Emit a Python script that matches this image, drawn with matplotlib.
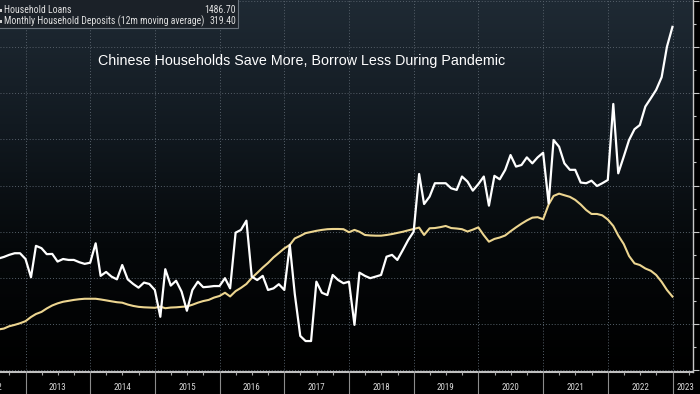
import numpy as np
import pandas as pd
import matplotlib
matplotlib.use("Agg")
import matplotlib.pyplot as plt
import matplotlib.dates as mdates
from matplotlib import font_manager
from matplotlib.colors import LinearSegmentedColormap
from matplotlib.patches import Rectangle
from matplotlib.ticker import MultipleLocator

# monthly values, Jul 2012 .. Dec 2022
months = pd.date_range("2012-07-31", periods=126, freq="ME")

household_loans = [
    484, 491, 500, 507, 507, 482,
    403, 539, 529, 503, 504, 471, 482, 478, 478, 468, 461, 466,
    550, 409, 426, 406, 394, 456, 394, 374, 358, 380, 374, 348,
    232, 438, 367, 388, 341, 258, 348, 384, 360, 362, 365, 365,
    399, 355, 596, 608, 648, 406, 391, 409, 348, 355, 373, 348,
    543, 331, 149, 127, 127, 384, 336, 326, 413, 391, 377, 384,
    197, 423, 409, 399, 406, 413, 492, 500, 478, 521, 564, 600,
    850, 720, 752, 810, 810, 810, 788, 781, 839, 817, 778, 806,
    839, 713, 842, 827, 868, 932, 882, 889, 922, 896, 922, 942,
    723, 997, 968, 896, 868, 868, 813, 810, 821, 798, 810, 824,
    1153, 853, 925, 997, 1044, 1062, 1142, 1178, 1214, 1269, 1401, 1486.70,
]

household_deposits = [
    177, 181, 191, 197, 204, 213,
    231, 244, 253, 268, 281, 290, 297, 301, 305, 308, 310, 310,
    310, 307, 303, 299, 295, 293, 285, 279, 275, 273, 272, 271,
    276, 269, 272, 273, 275, 277, 284, 293, 300, 305, 315, 322,
    336, 320, 343, 357, 374, 400, 422, 445, 465, 489, 508, 528,
    543, 571, 582, 594, 599, 604, 608, 611, 612, 612, 611, 598,
    608, 600, 586, 584, 583, 583, 586, 590, 595, 600, 606, 612,
    618, 586, 615, 616, 620, 625, 616, 614, 611, 601, 609, 619,
    585, 557, 569, 575, 584, 602, 619, 635, 649, 661, 663, 654,
    718, 755, 765, 758, 751, 738, 718, 694, 677, 677, 671, 653,
    625, 584, 547, 495, 463, 456, 441, 431, 413, 383, 348, 319.40,
]

years = list(range(2012, 2024))
legend_names = ["Household Loans", "Monthly Household Deposits (12m moving average)"]
legend_values = ["1486.70", "319.40"]
title = "Chinese Households Save More, Borrow Less During Pandemic"

# use a condensed face if the system has one, Bloomberg labels are narrow
fonts = font_manager.fontManager.ttflist
names = {f.name for f in fonts}
small_font = None
for cand in ["Liberation Sans Narrow", "Roboto Condensed", "Noto Sans Condensed",
             "Open Sans Condensed", "DejaVu Sans Condensed"]:
    if cand in names:
        small_font = dict(family=[cand, "DejaVu Sans"])
        break
if small_font is None:
    for fam in ["DejaVu Sans", "Noto Sans", "Roboto", "Liberation Sans"]:
        if any(f.name == fam and f.stretch in ("condensed", "semi-condensed") for f in fonts):
            small_font = dict(family=[fam], stretch="condensed")
            break
condensed = small_font is not None
if not condensed:
    small_font = dict(family=["Roboto", "Liberation Sans", "DejaVu Sans"])

fig = plt.figure(figsize=(7, 3.94), dpi=100, facecolor="black")
ax = fig.add_axes([0, 22 / 394, 693 / 700, 372 / 394])
ax.set_facecolor("black")

# dark slate -> black gradient behind the plot
cmap = LinearSegmentedColormap.from_list("bg", ["#000000", "#05080a", "#121a21", "#1f2a34"])
grad = np.linspace(0, 1, 256).reshape(-1, 1)
ax.imshow(grad, extent=[0, 1, 0, 1], transform=ax.transAxes, origin="lower",
          aspect="auto", cmap=cmap, zorder=0)

ax.plot(months, household_deposits, color="#ecd590", lw=1.5, zorder=3)
ax.plot(months, household_loans, color="white", lw=1.6, zorder=4)

ax.set_xlim(pd.Timestamp("2012-08-09"), pd.Timestamp("2023-04-26"))
ax.set_ylim(-7, 1603)

ax.xaxis.set_major_locator(mdates.YearLocator())
ax.xaxis.set_minor_locator(mdates.MonthLocator(bymonth=[4, 7, 10]))
ax.xaxis.set_major_formatter(plt.NullFormatter())
ax.tick_params(axis="x", which="major", direction="out", length=16, width=0.8, color="#8c8c8c")
ax.tick_params(axis="x", which="minor", direction="out", length=2.5, width=0.8, color="#a8a8a8")

ax.yaxis.tick_right()
ax.yaxis.set_major_locator(MultipleLocator(200))
ax.yaxis.set_minor_locator(MultipleLocator(100))
ax.tick_params(axis="y", which="major", direction="out", length=4, width=0.8,
               color="#c8c8c8", labelright=False)
ax.tick_params(axis="y", which="minor", direction="out", length=2, width=0.8, color="#c8c8c8")

ax.grid(axis="y", which="major", color="#56606a", lw=0.7, ls=(0, (1, 2)))
ax.grid(axis="x", which="major", color="#56606a", lw=0.7, ls=(0, (1, 2)))
ax.set_axisbelow(False)

for side in ["left", "top"]:
    ax.spines[side].set_visible(False)
ax.spines["right"].set_color("#c8c8c8")
ax.spines["right"].set_linewidth(1)
ax.spines["bottom"].set_color("#c0c0c0")
ax.spines["bottom"].set_linewidth(1.5)

renderer = fig.canvas.get_renderer()


def fit_width(texts, ref, target_px):
    # scale font size of a group of texts so that `ref` is target_px wide
    w = ref.get_window_extent(renderer).width
    size = ref.get_fontsize() * target_px / w
    for t in texts:
        t.set_fontsize(size)


# year labels centred in each year
year_texts = []
for y in years:
    pos = pd.Timestamp(f"{y}-07-01") if y < 2023 else pd.Timestamp("2023-03-15")
    year_texts.append(ax.text(pos, -0.043, str(y), transform=ax.get_xaxis_transform(),
                              ha="center", va="center", color="#d8d8d8", fontsize=7,
                              clip_on=False, **small_font))
fit_width(year_texts, year_texts[1], 18 if condensed else 21)

t = fig.text(98 / 700, 1 - 61 / 394, title, color="white", fontsize=10.5,
             family=["Liberation Sans", "DejaVu Sans"], va="center", ha="left")
fit_width([t], t, 409)

# legend box in top-left corner
fig.add_artist(Rectangle((-0.01, 1 - 28 / 394), 238 / 700 + 0.01, 28 / 394 + 0.01,
                         transform=fig.transFigure, facecolor="#1b2128",
                         edgecolor="#6a727b", lw=0.8, zorder=10))
leg_texts = []
for i, (name, val) in enumerate(zip(legend_names, legend_values)):
    ypos = 1 - (10 + 11 * i) / 394
    leg_texts.append(fig.text(4 / 700, ypos, name, color="#e0e0e0", fontsize=7.5,
                              va="center", ha="left", zorder=11, **small_font))
    leg_texts.append(fig.text(236 / 700, ypos, val, color="#e0e0e0", fontsize=7.5,
                              va="center", ha="right", zorder=11, **small_font))
    fig.add_artist(Rectangle((-2 / 700, ypos - 1.5 / 394), 3.5 / 700, 3 / 394,
                             transform=fig.transFigure, facecolor="#d0d0d0",
                             edgecolor="none", zorder=11))
fit_width(leg_texts, leg_texts[2], 198 if condensed else 199)

fig.savefig("out.png", dpi=100, facecolor="black")
